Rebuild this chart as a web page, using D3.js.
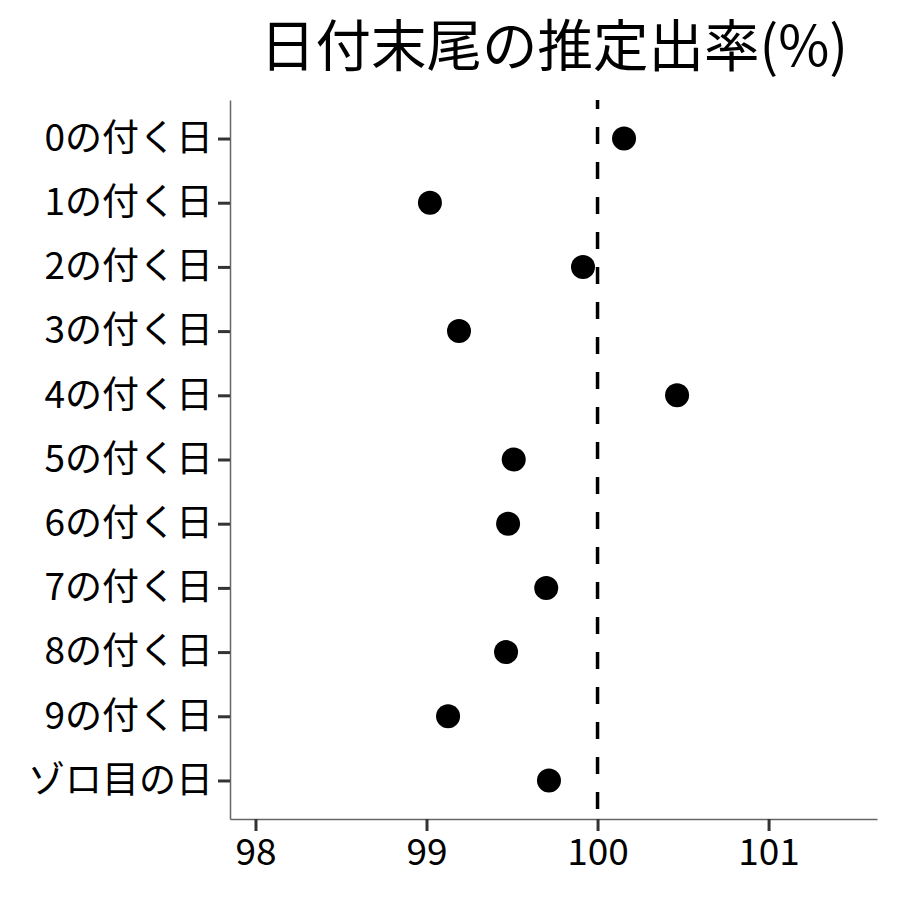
<!DOCTYPE html>
<html>
<head>
<meta charset="utf-8">
<script src="https://cdn.jsdelivr.net/npm/d3@7"></script>
<style>
  body { margin: 0; background: #fff; }
  text { font-family: "Noto Sans CJK JP", "Noto Sans", sans-serif; }
</style>
</head>
<body>
<div id="chart"></div>
<script>
// data
const categories = ["0の付く日", "1の付く日", "2の付く日", "3の付く日", "4の付く日",
  "5の付く日", "6の付く日", "7の付く日", "8の付く日", "9の付く日", "ゾロ目の日"];
const rates = [100.155, 99.02, 99.915, 99.19, 100.465, 99.51, 99.477, 99.70, 99.465, 99.126, 99.716];
const xTicks = [98, 99, 100, 101];
const refLine = 100;
const title = "日付末尾の推定出率(%)";

const W = 900, H = 900;
const mLeft = 230, mRight = 877, mTop = 100, mBottom = 819;

const svg = d3.select("#chart").append("svg")
  .attr("width", W).attr("height", H);

const x = d3.scaleLinear().domain([97.851, 101.634]).range([mLeft, mRight]);
const y = d3.scalePoint().domain(categories).range([mTop, mBottom]).padding(0.6);

// title
svg.append("text")
  .attr("x", 554).attr("y", 66)
  .attr("text-anchor", "middle")
  .attr("font-size", 55.5)
  .attr("fill", "#000")
  .text(title);

// x axis
const xAxis = svg.append("g")
  .attr("transform", `translate(0,${mBottom})`)
  .call(d3.axisBottom(x).tickValues(xTicks).tickSize(12).tickSizeOuter(0)
    .tickPadding(8).tickFormat(d3.format("d")));
xAxis.select(".domain").attr("stroke", "#666").attr("stroke-width", 1.5);
xAxis.selectAll(".tick line").attr("stroke", "#333").attr("stroke-width", 3);
xAxis.selectAll(".tick text").attr("font-size", 37).attr("fill", "#000")
  .style("font-family", '"Noto Sans CJK JP", sans-serif');

// y axis
const yAxis = svg.append("g")
  .attr("transform", `translate(${mLeft},0)`)
  .call(d3.axisLeft(y).tickSize(12).tickSizeOuter(0).tickPadding(5));
yAxis.select(".domain").attr("stroke", "#666").attr("stroke-width", 1.5);
yAxis.selectAll(".tick line").attr("stroke", "#333").attr("stroke-width", 3);
yAxis.selectAll(".tick text").attr("font-size", 37).attr("fill", "#000")
  .style("font-family", '"Noto Sans CJK JP", sans-serif');

// reference line
svg.append("line")
  .attr("x1", x(refLine)).attr("x2", x(refLine))
  .attr("y1", mTop).attr("y2", mBottom)
  .attr("stroke", "#000")
  .attr("stroke-width", 3.5)
  .attr("stroke-dasharray", "17,18")
  .attr("stroke-dashoffset", 8);

// points
svg.selectAll("circle.pt")
  .data(categories)
  .join("circle")
  .attr("class", "pt")
  .attr("cx", (d, i) => x(rates[i]))
  .attr("cy", d => y(d))
  .attr("r", 12)
  .attr("fill", "#000");
</script>
</body>
</html>
